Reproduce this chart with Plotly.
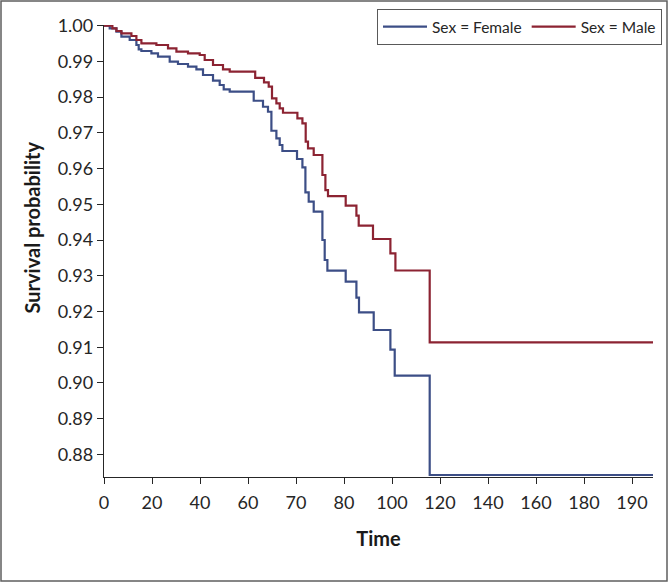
import plotly.graph_objects as go

# x positions are on the chart's linear axis (ticks every 20 units, relabelled as in the original)
tick_positions = [0, 20, 40, 60, 80, 100, 120, 140, 160, 180, 200, 220]
tick_labels = ["0", "20", "40", "60", "70", "80", "100", "120", "140", "160", "180", "190"]
y_ticks = [0.88, 0.89, 0.90, 0.91, 0.92, 0.93, 0.94, 0.95, 0.96, 0.97, 0.98, 0.99, 1.00]

female_time = [0, 2.38, 5.17, 7.25, 10.71, 13.5, 14.46, 15.58, 19.75, 22.5, 27.38, 30.83,
               35.0, 38.5, 41.25, 45.42, 48.21, 49.88, 52.38, 62.38, 66.25, 68.33, 69.75,
               71.83, 73.21, 74.33, 80.42, 82.67, 83.92, 85.29, 87.38, 91.0, 91.96, 93.08,
               100.71, 105.17, 106.25, 112.38, 119.33, 121.13, 135.71, 228.75]
female_surv = [1.0, 0.99927, 0.99832, 0.99692, 0.99600, 0.99460, 0.99339, 0.99292, 0.99227,
               0.99132, 0.98992, 0.98928, 0.98852, 0.98779, 0.98620, 0.98460, 0.98340,
               0.98219, 0.98152, 0.97900, 0.97732, 0.97592, 0.97060, 0.96848, 0.96660,
               0.96492, 0.96268, 0.96036, 0.95336, 0.95073, 0.94793, 0.94001, 0.93441,
               0.93141, 0.92833, 0.92385, 0.91976, 0.91481, 0.90930, 0.90202, 0.87422, 0.87422]

male_time = [0, 3.5, 5.17, 7.25, 11.42, 13.5, 15.58, 21.83, 26.67, 30.17, 35.0, 39.88,
             41.96, 45.42, 49.58, 52.38, 63.0, 66.67, 68.63, 70.0, 71.83, 73.21, 74.58,
             80.58, 82.67, 84.04, 85.0, 87.38, 91.0, 92.25, 93.33, 100.71, 105.17, 106.13,
             112.08, 119.33, 121.42, 135.71, 228.75]
male_surv = [1.0, 0.99927, 0.99852, 0.99787, 0.99712, 0.99600, 0.99507, 0.99460, 0.99367,
             0.99272, 0.99227, 0.99180, 0.99040, 0.98900, 0.98779, 0.98712, 0.98540,
             0.98415, 0.98292, 0.97968, 0.97828, 0.97688, 0.97564, 0.97408, 0.97268,
             0.96753, 0.96568, 0.96380, 0.95820, 0.95400, 0.95232, 0.94961, 0.94681,
             0.94401, 0.94029, 0.93628, 0.93147, 0.91137, 0.91137]

W, H = 670, 583
ML, MR, MT, MB = 104, 17, 25, 106
pw = W - ML - MR
ph = H - MT - MB

fig = go.Figure()
fig.add_trace(go.Scatter(x=female_time, y=female_surv, mode="lines", name="Sex = Female",
                         line=dict(shape="hv", color="#3C4E86", width=2.2)))
fig.add_trace(go.Scatter(x=male_time, y=male_surv, mode="lines", name="Sex = Male",
                         line=dict(shape="hv", color="#8C2332", width=2.2)))

# outer frame around the whole picture (paper coords extended beyond plot area)
fig.add_shape(type="rect", xref="paper", yref="paper",
              x0=(1 - ML) / pw, x1=(667 - ML) / pw,
              y0=1 - (581 - MT) / ph, y1=1 + (MT - 1) / ph,
              line=dict(color="#5f5f5f", width=1.5), fillcolor="rgba(0,0,0,0)", layer="below")

# y-axis title placed as in the original (slightly above the axis centre)
fig.add_annotation(text="<b>Survival probability</b>", xref="paper", yref="paper",
                   x=(31.5 - ML) / pw, y=1 - (228 - MT) / ph, xanchor="center", yanchor="middle",
                   textangle=-90, showarrow=False,
                   font=dict(family="Lato", size=20, color="#1a1a1a"))

fig.update_layout(
    width=W, height=H,
    margin=dict(l=ML, r=MR, t=MT, b=MB, autoexpand=False),
    paper_bgcolor="white", plot_bgcolor="white",
    font=dict(family="Lato", size=18, color="#262626"),
    showlegend=True,
    legend=dict(orientation="h", x=(662 - ML) / pw, xanchor="right",
                y=1 + (MT - 9) / ph, yanchor="top",
                itemwidth=44,
                bordercolor="#595959", borderwidth=1, bgcolor="white",
                font=dict(family="Lato", size=15.5, color="#262626")),
)
fig.update_xaxes(range=[0, 228.75], tickvals=tick_positions, ticktext=tick_labels,
                 showgrid=False, zeroline=False, showline=True, linecolor="#262626", linewidth=1.3,
                 ticks="outside", ticklen=6, tickcolor="#262626", tickwidth=1.3,
                 ticklabelstandoff=3,
                 title=dict(text="Time", font=dict(family="Lato", size=20, weight="bold", color="#1a1a1a"),
                            standoff=20))
fig.update_yaxes(range=[0.87366, 1.0002], tickvals=y_ticks, tickformat=".2f",
                 showgrid=False, zeroline=False, showline=True, linecolor="#262626", linewidth=1.3,
                 ticks="outside", ticklen=6, tickcolor="#262626", tickwidth=1.3)

fig.write_html("out.html")
